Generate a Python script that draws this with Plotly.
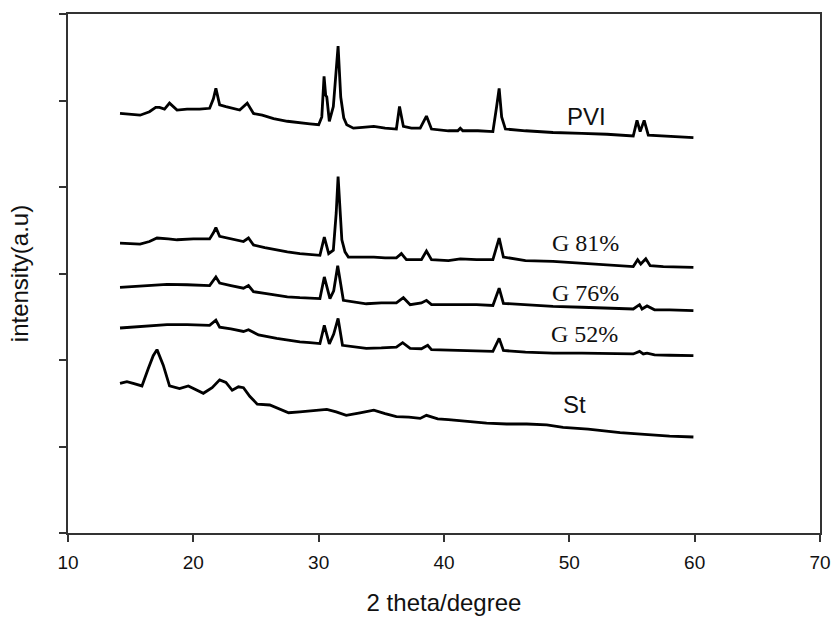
import plotly.graph_objects as go

# 2 theta positions and offset intensities
pvi_x = [14.15, 15.0, 15.75, 16.5, 17.0, 17.3, 17.7, 18.1, 18.7, 19.5, 20.5, 21.3, 21.6,
         21.8, 22.1, 22.6, 23.2, 23.7, 24.3, 24.8, 25.5, 26.4, 27.5, 28.5, 29.3, 30.0,
         30.25, 30.43, 30.56, 30.65, 30.85, 31.17, 31.4, 31.55, 31.76, 32.0, 32.24,
         32.77, 33.5, 34.4, 35.3, 36.2, 36.45, 36.76, 37.4, 38.1, 38.6, 39.0, 40.35,
         41.1, 41.3, 41.5, 42.7, 43.9, 44.2, 44.4, 44.6, 44.9, 46.5, 48.7, 51.0, 53.0,
         55.1, 55.4, 55.65, 55.97, 56.3, 57.5, 59.9]
pvi_y = [4.85, 4.84, 4.83, 4.87, 4.92, 4.92, 4.90, 4.97, 4.89, 4.90, 4.90, 4.91, 5.02,
         5.14, 4.95, 4.93, 4.91, 4.89, 4.97, 4.85, 4.83, 4.79, 4.76, 4.74, 4.73, 4.72,
         4.81, 5.28, 5.06, 5.04, 4.76, 4.93, 5.30, 5.63, 5.04, 4.80, 4.72,
         4.68, 4.69, 4.70, 4.68, 4.67, 4.93, 4.70, 4.68, 4.68, 4.82, 4.67, 4.65,
         4.65, 4.68, 4.65, 4.65, 4.64, 4.93, 5.14, 4.81, 4.67, 4.65, 4.63, 4.62, 4.61,
         4.59, 4.77, 4.64, 4.77, 4.60, 4.59, 4.57]

g81_x = [14.15, 15.75, 16.5, 17.1, 18.0, 18.7, 20.0, 21.3, 21.6, 21.8, 22.1, 23.0, 24.0,
         24.4, 24.8, 25.7, 26.65, 27.5, 28.5, 29.3, 30.1, 30.45, 30.8, 31.17, 31.4,
         31.55, 31.85, 32.1, 32.37, 33.4, 34.4, 35.3, 36.2, 36.6, 37.0, 38.2, 38.6,
         39.0, 40.35, 41.3, 42.6, 43.9, 44.2, 44.4, 44.74, 46.5, 48.7, 51.0, 53.0,
         55.1, 55.45, 55.7, 56.1, 56.45, 57.5, 59.9]
g81_y = [3.35, 3.34, 3.37, 3.41, 3.40, 3.39, 3.40, 3.40, 3.47, 3.53, 3.43, 3.40, 3.37,
         3.41, 3.33, 3.30, 3.27, 3.25, 3.23, 3.22, 3.21, 3.42, 3.23, 3.27, 3.70,
         4.12, 3.39, 3.25, 3.19, 3.19, 3.19, 3.18, 3.18, 3.23, 3.16, 3.16, 3.26,
         3.16, 3.15, 3.17, 3.16, 3.16, 3.30, 3.41, 3.19, 3.15, 3.14, 3.12, 3.10,
         3.08, 3.16, 3.11, 3.17, 3.09, 3.08, 3.07]

g76_x = [14.15, 16.0, 17.9, 19.5, 21.3, 21.8, 22.1, 23.0, 24.0, 24.4, 24.8, 25.7, 26.65,
         27.5, 28.5, 29.3, 30.1, 30.45, 30.9, 31.2, 31.52, 31.97, 32.8, 33.8, 35.0,
         36.2, 36.76, 37.3, 38.2, 38.6, 39.0, 40.35, 41.3, 42.6, 43.9, 44.4, 44.74,
         46.5, 48.7, 51.0, 53.0, 55.1, 55.6, 55.8, 56.2, 56.8, 58.0, 59.9]
g76_y = [2.84, 2.86, 2.875, 2.87, 2.86, 2.96, 2.89, 2.86, 2.83, 2.86, 2.79, 2.77, 2.75,
         2.73, 2.72, 2.715, 2.71, 2.96, 2.71, 2.80, 3.09, 2.69, 2.67, 2.65, 2.66,
         2.66, 2.72, 2.64, 2.66, 2.69, 2.64, 2.64, 2.64, 2.64, 2.63, 2.83, 2.655,
         2.64, 2.62, 2.61, 2.60, 2.59, 2.64, 2.59, 2.625, 2.58, 2.58, 2.57]

g52_x = [14.15, 16.0, 17.9, 19.5, 21.3, 21.8, 22.1, 23.0, 24.0, 24.4, 25.2, 26.65, 27.5,
         28.5, 29.3, 30.1, 30.45, 30.85, 31.2, 31.55, 31.9, 32.8, 33.8, 35.0, 36.2,
         36.7, 37.3, 38.2, 38.7, 39.0, 40.35, 41.3, 42.6, 43.9, 44.4, 44.74, 46.5,
         48.7, 51.0, 53.0, 55.1, 55.6, 55.9, 56.2, 56.8, 58.0, 59.9]
g52_y = [2.37, 2.39, 2.41, 2.41, 2.40, 2.46, 2.38, 2.36, 2.33, 2.35, 2.29, 2.25, 2.23,
         2.21, 2.20, 2.19, 2.40, 2.185, 2.30, 2.48, 2.17, 2.15, 2.135, 2.14, 2.15,
         2.20, 2.135, 2.13, 2.17, 2.12, 2.115, 2.115, 2.11, 2.10, 2.25, 2.11, 2.09,
         2.08, 2.08, 2.075, 2.07, 2.10, 2.07, 2.08, 2.06, 2.055, 2.05]

st_x = [14.15, 14.7, 15.2, 15.9, 16.4, 16.8, 17.1, 17.6, 18.1, 18.9, 19.6, 20.2, 20.8,
        21.5, 22.1, 22.6, 23.1, 23.6, 24.0, 24.5, 25.1, 26.1, 26.8, 27.6, 28.5, 29.5,
        30.65, 31.4, 32.2, 33.3, 34.4, 35.3, 36.2, 37.2, 38.1, 38.6, 39.5, 40.35, 41.8,
        43.4, 45.0, 46.6, 48.2, 49.5, 51.5, 54.05, 56.0, 58.0, 59.9]
st_y = [1.73, 1.75, 1.73, 1.70, 1.90, 2.05, 2.12, 1.94, 1.70, 1.67, 1.70, 1.66, 1.615,
        1.68, 1.77, 1.74, 1.65, 1.69, 1.68, 1.58, 1.49, 1.48, 1.44, 1.39, 1.40, 1.41,
        1.43, 1.40, 1.36, 1.39, 1.42, 1.38, 1.345, 1.34, 1.325, 1.36, 1.32, 1.31, 1.29,
        1.27, 1.26, 1.26, 1.25, 1.22, 1.20, 1.16, 1.14, 1.12, 1.11]

label_text = ["PVI", "G 81%", "G 76%", "G 52%", "St"]
label_x = [51.4, 51.3, 51.3, 51.2, 50.4]
label_y = [4.81, 3.35, 2.78, 2.30, 1.48]
label_font = ["Liberation Sans", "Liberation Serif", "Liberation Serif",
              "Liberation Serif", "Liberation Sans"]

fig = go.Figure()
for xs, ys in [(pvi_x, pvi_y), (g81_x, g81_y), (g76_x, g76_y), (g52_x, g52_y), (st_x, st_y)]:
    fig.add_trace(go.Scatter(x=xs, y=ys, mode="lines",
                             line=dict(color="black", width=2.8), showlegend=False))

for t, x, y, f in zip(label_text, label_x, label_y, label_font):
    fig.add_annotation(x=x, y=y, text=t, showarrow=False,
                       font=dict(family=f, size=24, color="#111"))

axis_style = dict(showgrid=False, zeroline=False, showline=True, mirror=True,
                  linecolor="#333", linewidth=2, ticks="outside",
                  tickcolor="#333", tickwidth=1.5, automargin=False)

fig.update_xaxes(range=[10, 70], dtick=10, tick0=10, ticklen=7, ticklabelstandoff=4,
                 title=dict(text="2 theta/degree", font=dict(size=24), standoff=22),
                 tickfont=dict(size=19), **axis_style)
fig.update_yaxes(range=[0, 6], dtick=1, ticklen=7, showticklabels=False,
                 title=dict(text="intensity(a.u)", font=dict(size=24), standoff=24),
                 **axis_style)

fig.update_layout(width=833, height=618, plot_bgcolor="white", paper_bgcolor="white",
                  margin=dict(l=68, r=13, t=14, b=85),
                  font=dict(family="Liberation Sans", color="#111"))

# drop the default page margin so the figure sits at the window's corner
fig.write_html("out.html", config={"displayModeBar": False},
               post_script="document.body.style.margin='0';document.body.style.overflow='hidden';")
